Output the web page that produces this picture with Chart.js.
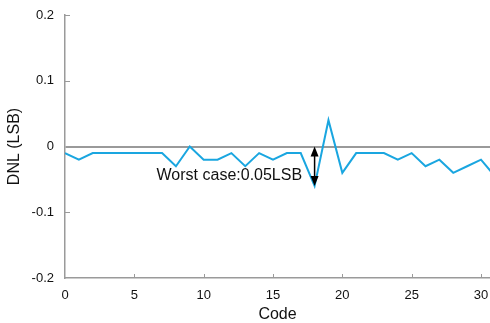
<!DOCTYPE html>
<html>
<head>
<meta charset="utf-8">
<script src="https://cdn.jsdelivr.net/npm/chart.js@4/dist/chart.umd.min.js"></script>
<style>
  html, body { margin: 0; padding: 0; background: #fff; }
  #wrap { width: 490px; height: 323px; }
</style>
</head>
<body>
<div id="wrap"><canvas id="chart-dnl" width="490" height="323"></canvas></div>
<script>
  /*
    ==================================================
    ====================== DATOS ======================
    ==================================================
  */

  const codes = [0, 1, 2, 3, 4, 5, 6, 7, 8, 9, 10, 11, 12, 13, 14, 15,
    16, 17, 18, 19, 20, 21, 22, 23, 24, 25, 26, 27, 28, 29, 30, 31];
  const dnl = [-0.01, -0.02, -0.01, -0.01, -0.01, -0.01, -0.01, -0.01, -0.03, 0, -0.02, -0.02, -0.01, -0.03, -0.01, -0.02,
    -0.01, -0.01, -0.06, 0.04, -0.04, -0.01, -0.01, -0.01, -0.02, -0.01, -0.03, -0.02, -0.04, -0.03, -0.02, -0.045];
  const yTicks = [-0.2, -0.1, 0, 0.1, 0.2];
  const xTicks = [0, 5, 10, 15, 20, 25, 30];

  // anotacion: flecha en el peor codigo, texto a la izquierda
  const worstCode = 18;
  const worstRange = [0, -0.06];
  const noteText = "Worst case:0.05LSB";
  const notePos = [17.1, -0.044];

  const axisGrey = "#9a9a9a";
  const font = "'Liberation Sans', Arial, sans-serif";

  /*
    ==================================================
    ===================== PLUGINS =====================
    ==================================================
  */

  // marcas de escala hacia adentro + flecha y texto
  const extras = {
    id: "extras",
    afterDatasetsDraw(chart) {
      const { ctx, chartArea, scales: { x, y } } = chart;
      ctx.save();
      ctx.strokeStyle = axisGrey;
      ctx.lineWidth = 1;
      xTicks.forEach(v => {
        if (v === 0) return;
        const px = Math.round(x.getPixelForValue(v)) + 0.5;
        ctx.beginPath();
        ctx.moveTo(px, chartArea.bottom);
        ctx.lineTo(px, chartArea.bottom - 4);
        ctx.stroke();
      });
      yTicks.forEach(v => {
        if (v === 0 || v === -0.2) return;
        const py = Math.round(y.getPixelForValue(v)) + 0.5;
        ctx.beginPath();
        ctx.moveTo(chartArea.left, py);
        ctx.lineTo(chartArea.left + 5, py);
        ctx.stroke();
      });

      // flecha doble
      const ax = x.getPixelForValue(worstCode);
      const y1 = y.getPixelForValue(worstRange[0]);
      const y2 = y.getPixelForValue(worstRange[1]);
      ctx.strokeStyle = "#000";
      ctx.fillStyle = "#000";
      ctx.lineWidth = 1.5;
      ctx.beginPath();
      ctx.moveTo(ax, y1 + 6);
      ctx.lineTo(ax, y2 - 6);
      ctx.stroke();
      [[y1, 1], [y2, -1]].forEach(([py, d]) => {
        ctx.beginPath();
        ctx.moveTo(ax, py);
        ctx.lineTo(ax - 4, py + d * 10);
        ctx.lineTo(ax + 4, py + d * 10);
        ctx.closePath();
        ctx.fill();
      });

      ctx.font = "16px " + font;
      ctx.textAlign = "right";
      ctx.textBaseline = "middle";
      ctx.fillStyle = "#111";
      ctx.fillText(noteText, x.getPixelForValue(notePos[0]), y.getPixelForValue(notePos[1]));
      ctx.restore();
    }
  };

  /*
    ==================================================
    ===================== GRAFICO =====================
    ==================================================
  */

  let cnv = document.getElementById("chart-dnl").getContext("2d");

  let chart = new Chart(cnv, {
    type: "line",
    data: {
      datasets: [{
        label: "DNL",
        data: codes.map((c, i) => ({ x: c, y: dnl[i] })),
        borderColor: "#1aa6e0",
        borderWidth: 2,
        pointRadius: 0,
        tension: 0
      }]
    },
    options: {
      responsive: false,
      animation: false,
      layout: { padding: { top: 15, right: 0, left: 0, bottom: 0 } },
      plugins: { legend: { display: false }, tooltip: { enabled: false } },
      scales: {
        x: {
          type: "linear",
          min: 0,
          max: 30.65,
          afterFit: s => { s.height = 45; s.paddingLeft = 0; s.paddingRight = 0; },
          afterBuildTicks: s => { s.ticks = xTicks.map(v => ({ value: v })); },
          ticks: { padding: 10, color: "#111", font: { family: font, size: 13 }, maxRotation: 0 },
          grid: { display: false, drawTicks: false },
          border: { display: true, color: axisGrey, width: 1.5 },
          title: {
            display: true, text: "Code", color: "#111",
            font: { family: font, size: 16, lineHeight: 1 },
            padding: { top: 0, bottom: 0 }
          }
        },
        y: {
          min: -0.2,
          max: 0.2,
          afterFit: s => { s.width = 65; s.paddingTop = 0; s.paddingBottom = 0; },
          afterBuildTicks: s => { s.ticks = yTicks.map(v => ({ value: v })); },
          ticks: {
            padding: 11, color: "#111", font: { family: font, size: 13 },
            callback: v => String(Number(v.toFixed(1)))
          },
          grid: {
            drawTicks: false,
            color: c => (c.tick && c.tick.value === 0 ? axisGrey : "transparent"),
            lineWidth: 2
          },
          border: { display: true, color: axisGrey, width: 1.5 },
          title: {
            display: true, text: "DNL (LSB)", color: "#111",
            font: { family: font, size: 16 },
            padding: { top: 5, bottom: 0 }
          }
        }
      }
    },
    plugins: [extras]
  });
</script>
</body>
</html>
